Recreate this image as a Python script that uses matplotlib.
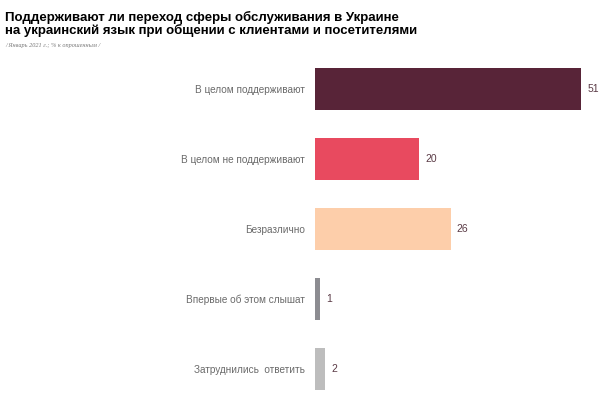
import matplotlib
matplotlib.use("Agg")
import matplotlib.pyplot as plt

categories = ["В целом поддерживают", "В целом не поддерживают", "Безразлично",
              "Впервые об этом слышат", "Затруднились  ответить"]
values = [51, 20, 26, 1, 2]
colors = ["#582438", "#E84A5F", "#FDCEAA", "#8C8C91", "#BDBDBD"]

title = "Поддерживают ли переход сферы обслуживания в Украине\nна украинский язык при общении с клиентами и посетителями"
subtitle = "/ Январь 2021 г.; % к опрошенным /"

plt.rcParams['font.family'] = ['Liberation Sans', 'DejaVu Sans']

W, H = 616, 399
fig = plt.figure(figsize=(W / 100, H / 100), dpi=100)
fig.patch.set_facecolor("white")

ax_left, ax_right = 315, 600
ax_top, ax_bottom = 54, 399
ax = fig.add_axes([ax_left / W, 1 - ax_bottom / H, (ax_right - ax_left) / W, (ax_bottom - ax_top) / H])

ypos = list(range(len(categories)))
ax.barh(ypos, values, height=0.6, color=colors)
px_per_unit = 266 / 51
ax.set_xlim(0, (ax_right - ax_left) / px_per_unit)
ax.set_ylim(-0.5 + (ax_bottom - ax_top) / 70, -0.5)

for y, v in zip(ypos, values):
    ax.text(v + 1.2, y, str(v), va="center", ha="left", fontsize=7.5, color="#5A3A45")

ax.set_yticks(ypos)
ax.set_yticklabels(categories, fontsize=7.2, color="#6A6A6A")
ax.tick_params(axis="y", length=0, pad=7.5)
ax.set_xticks([])
for s in ax.spines.values():
    s.set_visible(False)

fig.text(5 / W, 1 - 10.5 / H, title, ha="left", va="top", fontsize=9.5,
         fontweight="heavy", color="black", linespacing=1.08)
fig.text(5 / W, 1 - 46 / H, subtitle, ha="left", va="center", fontsize=4.5,
         family="Liberation Serif", style="italic", color="#777777")

fig.savefig("out.png", dpi=100)
